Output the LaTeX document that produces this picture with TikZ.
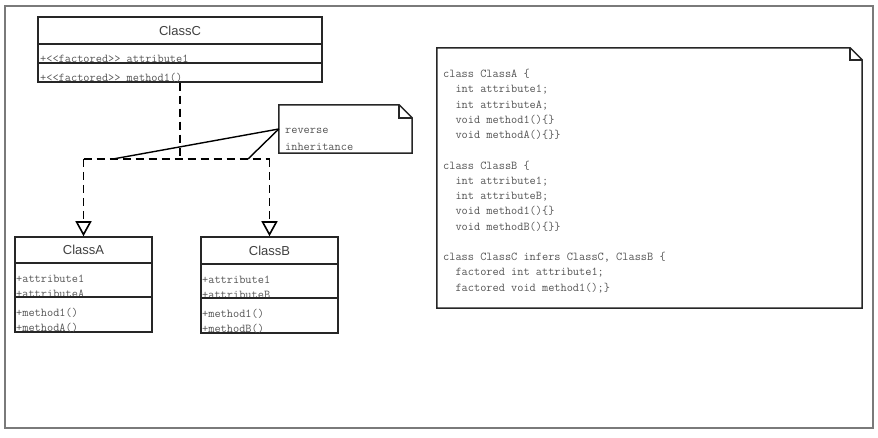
\documentclass[tikz,border=0pt]{standalone}
\usepackage{fontspec}
\setsansfont{Liberation Sans}
\usetikzlibrary{arrows.meta}
\definecolor{txtgray}{HTML}{555555}
\definecolor{framegray}{HTML}{7A7A7A}
\tikzset{
  box/.style={draw=black!85, line width=1.5pt, rectangle, inner sep=0pt},
  title/.style={font=\sffamily\fontsize{13}{15}\selectfont, text=black!75, inner sep=0pt},
  member/.style={font=\ttfamily\fontsize{12}{13}\selectfont, text=txtgray, anchor=west, inner sep=0pt},
  sep/.style={draw=black!85, line width=1.5pt},
  dep/.style={draw=black, line width=1.6pt, dash pattern=on 8pt off 5pt},
  gen/.style={dep, -{Triangle[open, length=15pt, width=16pt, fill=white]}},
  notebox/.style={draw=none, rectangle, inner sep=0pt},
  noteline/.style={draw=black!85, line width=1.5pt, line join=miter},
  link/.style={draw=black, line width=1.4pt},
}
\begin{document}
\begin{tikzpicture}[x=1pt, y=-1pt]
\useasboundingbox (0,0) rectangle (878,438);
% outer frame
\node[draw=framegray, line width=1.8pt, rectangle, minimum width=868pt, minimum height=422pt, inner sep=0pt] (frame) at (439,217) {};

% ClassC
\node[box, minimum width=284pt, minimum height=65pt] (C) at (180,49.5) {};
\node[title] (Ct) at (180,31) {ClassC};
\draw[sep] (38,44) -- (322,44);
\draw[sep] (38,63) -- (322,63);
\node[member] (Ca) at (40,59) {+<<factored>> attribute1};
\node[member] (Cm) at (40,78) {+<<factored>> method1()};

% ClassA
\node[box, minimum width=137pt, minimum height=95pt] (A) at (83.5,284.5) {};
\node[title] (At) at (83.5,250) {ClassA};
\node[member] (Aa1) at (16,279) {+attribute1};
\node[member] (Aa2) at (16,294) {+attributeA};
\node[member] (Am1) at (16,313) {+method1()};
\node[member] (Am2) at (16,328) {+methodA()};
\draw[sep] (15,263) -- (152,263);
\draw[sep] (15,297) -- (152,297);

% ClassB
\node[box, minimum width=137pt, minimum height=96pt] (B) at (269.5,285) {};
\node[title] (Bt) at (269.5,251) {ClassB};
\node[member] (Ba1) at (202,280) {+attribute1};
\node[member] (Ba2) at (202,295) {+attributeB};
\node[member] (Bm1) at (202,314) {+method1()};
\node[member] (Bm2) at (202,329) {+methodB()};
\draw[sep] (201,264) -- (338,264);
\draw[sep] (201,298) -- (338,298);

% dependency lines
\coordinate (jc) at (180,159);
\coordinate (jl) at (83.5,159);
\coordinate (jr) at (269.5,159);
\draw[dep] (C.south) -- (jc);
\draw[dep] (jl) -- (jr);
\draw[gen] (jl) -- (A.north);
\draw[gen] (jr) -- (B.north);

% note: reverse inheritance
\node[notebox, minimum width=133pt, minimum height=48pt] (N1) at (345.5,129) {};
\draw[noteline, fill=white] (N1.north west) -- ([xshift=-13pt]N1.north east) -- ([yshift=-13pt]N1.north east) -- (N1.south east) -- (N1.south west) -- cycle;
\draw[noteline] ([xshift=-13pt]N1.north east) -- ([xshift=-13pt,yshift=-13pt]N1.north east) -- ([yshift=-13pt]N1.north east);
\node[member] (N1a) at (285,131) {reverse};
\node[member] (N1b) at (285,147) {inheritance};
\coordinate (l1) at (113,159);
\coordinate (l2) at (248,159);
\draw[link] (N1.west) -- (l1);
\draw[link] (N1.west) -- (l2);

% code note
\node[notebox, minimum width=425pt, minimum height=260pt] (N2) at (649.5,178) {};
\draw[noteline, fill=white] (N2.north west) -- ([xshift=-12pt]N2.north east) -- ([yshift=-12pt]N2.north east) -- (N2.south east) -- (N2.south west) -- cycle;
\draw[noteline] ([xshift=-12pt]N2.north east) -- ([xshift=-12pt,yshift=-12pt]N2.north east) -- ([yshift=-12pt]N2.north east);
\node[member, anchor=north west, align=left, font=\ttfamily\fontsize{12}{15.25}\selectfont] (code) at (443,69) {%
class ClassA \{\\
\phantom{ii}int attribute1;\\
\phantom{ii}int attributeA;\\
\phantom{ii}void method1()\{\}\\
\phantom{ii}void methodA()\{\}\}\\
\mbox{}\\
class ClassB \{\\
\phantom{ii}int attribute1;\\
\phantom{ii}int attributeB;\\
\phantom{ii}void method1()\{\}\\
\phantom{ii}void methodB()\{\}\}\\
\mbox{}\\
class ClassC infers ClassC, ClassB \{\\
\phantom{ii}factored int attribute1;\\
\phantom{ii}factored void method1();\}};
\end{tikzpicture}
\end{document}
